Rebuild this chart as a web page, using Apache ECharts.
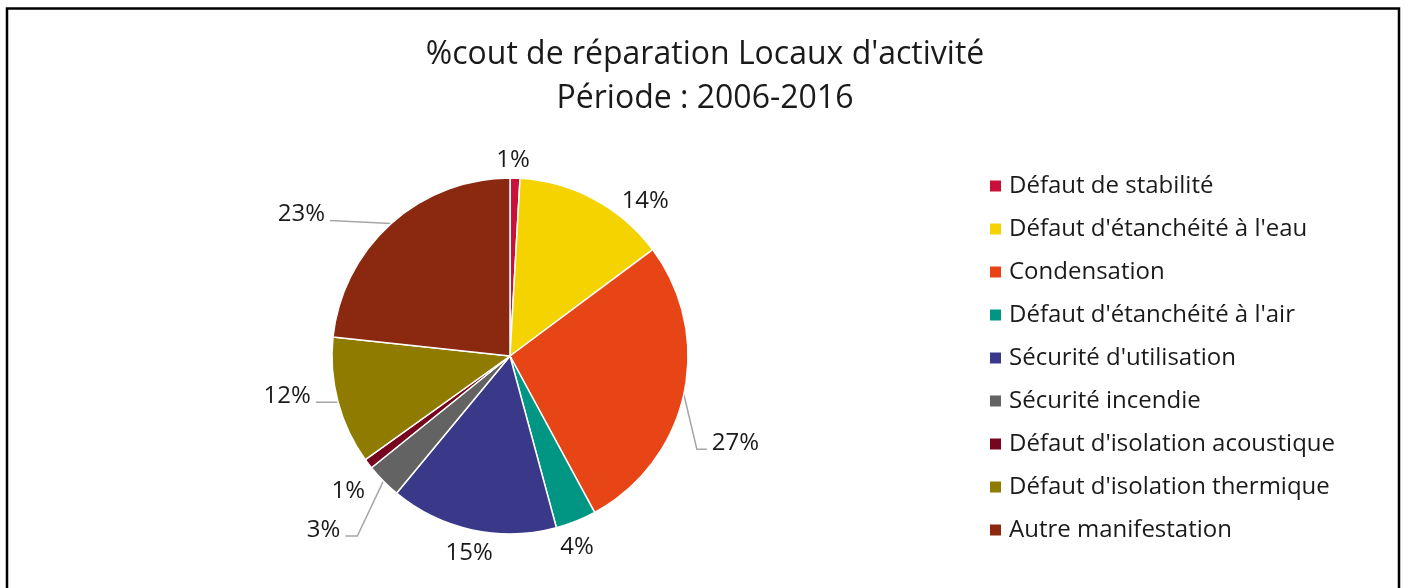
<!DOCTYPE html>
<html>
<head>
<meta charset="utf-8">
<script src="https://cdn.jsdelivr.net/npm/echarts@6/dist/echarts.min.js"></script>
<style>
  html, body { margin: 0; padding: 0; background: #fff; }
  #chart { width: 1408px; height: 588px; }
</style>
</head>
<body>
<div id="chart"></div>
<script>
// categories and values (percent of repair cost)
const categories = [
  'Défaut de stabilité',
  "Défaut d'étanchéité à l'eau",
  'Condensation',
  "Défaut d'étanchéité à l'air",
  "Sécurité d'utilisation",
  'Sécurité incendie',
  "Défaut d'isolation acoustique",
  "Défaut d'isolation thermique",
  'Autre manifestation'
];
const values = [0.9, 13.9, 27.3, 3.7, 15.2, 3.2, 0.9, 11.6, 23.3];
const colors = ['#C8103C', '#F5D300', '#E84516', '#009683', '#3A3889', '#636363', '#760520', '#8E7B00', '#8A2810'];

// label placement, relative to the slice edge point that echarts gives (Excel style)
// plain: offset of label centre; leader: bend offset, tail length, side
const labelPlace = [
  { off: [-2, -18] },
  { off: [51, 2] },
  { bend: [13, 55], tail: 10 },
  { off: [1, 26] },
  { off: [-3, 23] },
  { bend: [-26, 55], tail: -12 },
  { off: [-20, 27] },
  { bend: [0, 1], tail: -22 },
  { bend: [-61, -3], tail: 0, left: true }
];

var dom = document.getElementById('chart');
var myChart = echarts.init(dom, null, { renderer: 'canvas' });

const font = "'Open Sans', 'Noto Sans', sans-serif";

var data = categories.map((name, i) => ({
  name: name,
  value: values[i],
  itemStyle: { color: colors[i] }
}));

function placeLabel(params) {
  const p = labelPlace[params.dataIndex];
  const pts = params.labelLinePoints;
  if (!pts) return {};
  const p1 = pts[0];
  if (p.off) {
    return {
      x: p1[0] + p.off[0],
      y: p1[1] + p.off[1],
      align: 'center',
      verticalAlign: 'middle',
      labelLinePoints: [p1, p1]
    };
  }
  const b = [p1[0] + p.bend[0], p1[1] + p.bend[1]];
  const e = [b[0] + p.tail, b[1]];
  const toLeft = p.left || p.tail < 0;
  return {
    x: e[0] + (toLeft ? -5 : 5),
    y: e[1] - 6,
    align: toLeft ? 'right' : 'left',
    verticalAlign: 'middle',
    labelLinePoints: [p1, b, e]
  };
}

var option = {
  animation: false,
  textStyle: { fontFamily: font },
  title: {
    text: "%cout de réparation Locaux d'activité\nPériode : 2006-2016",
    left: 705,
    top: 33,
    padding: 0,
    textAlign: 'center',
    textStyle: {
      fontFamily: font,
      fontWeight: 'normal',
      fontSize: 32,
      lineHeight: 44,
      color: '#1a1a1a'
    }
  },
  legend: {
    orient: 'vertical',
    left: 988,
    top: 174,
    padding: 0,
    itemWidth: 13,
    itemHeight: 13,
    itemGap: 19,
    icon: 'rect',
    textStyle: {
      fontFamily: font,
      fontSize: 24,
      lineHeight: 24,
      color: '#1a1a1a',
      padding: [0, 0, 0, 2]
    },
    data: categories
  },
  // black frame
  graphic: [{
    type: 'rect',
    shape: { x: 7, y: 8.5, width: 1392, height: 620 },
    style: { fill: null, stroke: '#000', lineWidth: 2.5 },
    silent: true
  }],
  series: [{
    type: 'pie',
    center: [510, 356],
    radius: [0, 178],
    startAngle: 90,
    clockwise: true,
    avoidLabelOverlap: false,
    itemStyle: { borderColor: '#fff', borderWidth: 1.5 },
    label: {
      show: true,
      position: 'outside',
      formatter: p => Math.round(p.value) + '%',
      fontFamily: font,
      fontSize: 24,
      color: '#1a1a1a'
    },
    labelLine: {
      show: true,
      length: 0,
      length2: 10,
      lineStyle: { color: '#a6a6a6', width: 1.5 }
    },
    labelLayout: placeLabel,
    data: data
  }]
};

option && myChart.setOption(option);
</script>
</body>
</html>
